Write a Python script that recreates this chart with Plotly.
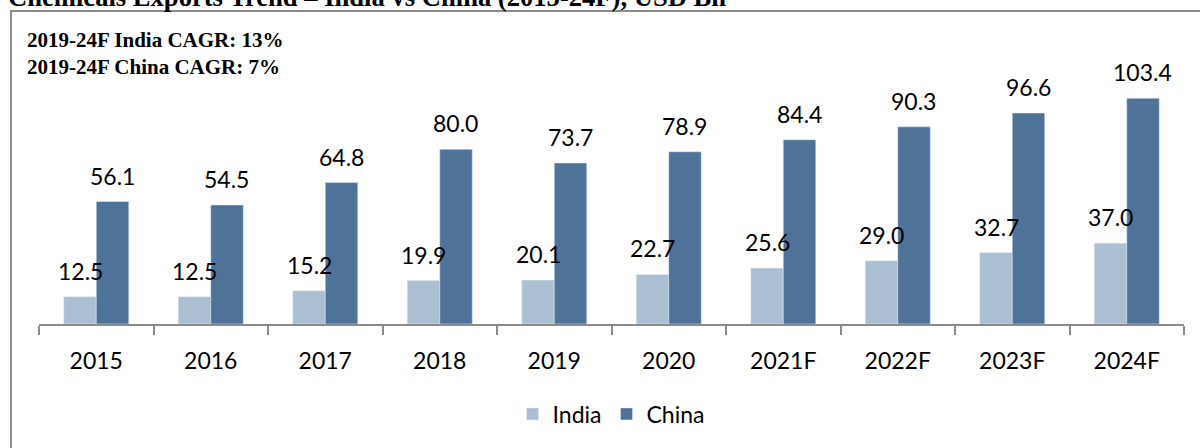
import plotly.graph_objects as go

years = ["2015", "2016", "2017", "2018", "2019", "2020", "2021F", "2022F", "2023F", "2024F"]
india = [12.5, 12.5, 15.2, 19.9, 20.1, 22.7, 25.6, 29.0, 32.7, 37.0]
china = [56.1, 54.5, 64.8, 80.0, 73.7, 78.9, 84.4, 90.3, 96.6, 103.4]

india_color = "#AABFD2"
china_color = "#4F7398"
label_font = dict(family="Lato, Open Sans, sans-serif", size=23, color="#000000")
serif = "Liberation Serif, Times New Roman, serif"

fig = go.Figure()
fig.add_trace(go.Bar(x=years, y=india, name="India", marker_color=india_color))
fig.add_trace(go.Bar(x=years, y=china, name="China", marker_color=china_color))

# value labels sit well above each bar, shifted onto the bar within its group
# (category index used as x, since "2015" etc. would be read as numbers)
for i, v in enumerate(india):
    fig.add_annotation(x=i, y=v, text=f"{v:.1f}", showarrow=False, xshift=-16,
                       yshift=26, yanchor="middle", font=label_font)
for i, v in enumerate(china):
    fig.add_annotation(x=i, y=v, text=f"{v:.1f}", showarrow=False, xshift=16,
                       yshift=26, yanchor="middle", font=label_font)

# chart title (its top is cut off at the upper edge in the original) and CAGR notes
fig.add_annotation(xref="paper", yref="paper", x=-0.0288, y=1.25, xanchor="left",
                   yanchor="middle", showarrow=False,
                   text="<b>Chemicals Exports Trend – India vs China (2015-24F), USD Bn</b>",
                   font=dict(family=serif, size=26.6, color="#000000"))
fig.add_annotation(xref="paper", yref="paper", x=-0.0122, y=1.033, xanchor="left",
                   yanchor="middle", showarrow=False, align="left",
                   text="<b>2019-24F India CAGR: 13%</b><br><b>2019-24F China CAGR: 7%</b>",
                   font=dict(family=serif, size=21, color="#000000"))

# outer frame
fig.add_shape(type="rect", xref="paper", yref="paper", x0=-0.0245, y0=-0.6, x1=1.05, y1=1.1947,
              line=dict(color="#8C8C8C", width=2), fillcolor="rgba(0,0,0,0)")

fig.update_layout(
    width=1200, height=448,
    margin=dict(l=39, r=16, t=62, b=124),
    paper_bgcolor="white", plot_bgcolor="white",
    barmode="group", bargap=0.432, bargroupgap=0,
    showlegend=True,
    legend=dict(orientation="h", x=0.4996, y=-0.3435, xanchor="center", yanchor="middle",
                font=label_font, itemwidth=30, traceorder="normal"),
)
fig.update_xaxes(type="category", range=[-0.5, len(years) - 0.5], showline=True,
                 linecolor="#8C8C8C", linewidth=1.5,
                 ticks="outside", tickson="boundaries", ticklen=9, tickcolor="#8C8C8C",
                 tickwidth=1.5, tickfont=label_font, ticklabelstandoff=16, tickangle=0,
                 showgrid=False)
fig.update_yaxes(visible=False, range=[0, 120], showgrid=False)

# drop the default page margin so the figure fills the window from the top-left corner
fig.write_html("out.html", config={"displayModeBar": False},
               post_script="document.body.style.margin='0';")
